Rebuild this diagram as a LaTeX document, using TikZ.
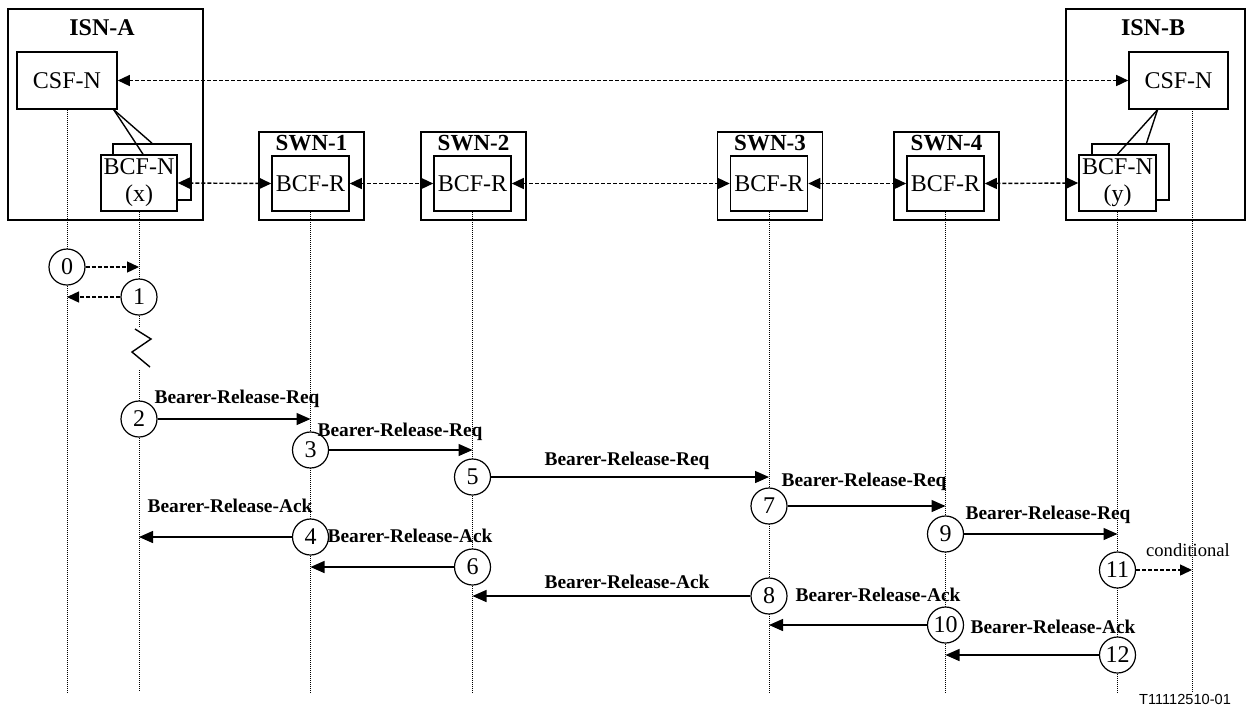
\documentclass[tikz,border=0pt]{standalone}
\usepackage{fontspec}
\setmainfont{Liberation Serif}
\setsansfont{Liberation Sans}
\usetikzlibrary{arrows.meta,positioning}

\begin{document}
\begin{tikzpicture}[x=0.5pt,y=-0.5pt,
  frame/.style={draw, line width=0.8pt, inner sep=0pt},
  fnbox/.style={draw, fill=white, line width=0.8pt, inner sep=0pt, align=center, font=\fontsize{12}{13.5}\selectfont},
  title/.style={font=\fontsize{12}{14}\selectfont\bfseries, inner sep=0pt},
  num/.style={circle, draw, fill=white, line width=0.6pt, minimum size=18pt, inner sep=0pt, font=\fontsize{12}{14}\selectfont},
  msglabel/.style={font=\fontsize{9.7}{11}\selectfont\bfseries, inner sep=0pt},
  lifeline/.style={line width=0.5pt, dash pattern=on 0.5pt off 0.5pt},
  sig/.style={line width=0.7pt, dash pattern=on 2pt off 1pt, -{Triangle[length=6pt,width=5.5pt]}},
  sigboth/.style={sig, {Triangle[length=6pt,width=5.5pt]}-{Triangle[length=6pt,width=5.5pt]}},
  msg/.style={line width=0.7pt, -{Triangle[length=7pt,width=6pt]}},
  link/.style={line width=0.7pt}]
  \useasboundingbox (0,0) rectangle (1246,707);

  % Network frames
  \node[frame, minimum width=97.5pt, minimum height=105.5pt] (isnA) at (105.5,114.5) {};
  \node[frame, minimum width=89.5pt, minimum height=105.5pt] (isnB) at (1155.5,114.5) {};
  \node[title] (isnAtitle) at (102,28) {ISN-A};
  \node[title] (isnBtitle) at (1153,28) {ISN-B};
  \foreach \x/\n/\name in {311.5/1/swnone, 473.5/2/swntwo, 770/3/swnthree, 946.5/4/swnfour} {
    \node[frame, minimum width=52.5pt, minimum height=44pt] (\name) at (\x,176) {};
    \node[title, font=\fontsize{11.5}{13}\selectfont\bfseries] (\name title) at (\x,143) {SWN-\n};
  }

  % Functional boxes
  \node[fnbox, minimum width=50pt, minimum height=28.5pt] (csfA) at (67,80.5) {CSF-N};
  \node[fnbox, minimum width=49.5pt, minimum height=28.5pt] (csfB) at (1178.5,80.5) {CSF-N};
  \node[fnbox, minimum width=39pt, minimum height=28pt] (bcfxb) at (152,172) {};
  \node[fnbox, minimum width=38pt, minimum height=28pt] (bcfx) at (139,183) {BCF-N\\(x)};
  \node[fnbox, minimum width=38.5pt, minimum height=28pt] (bcfyb) at (1130.5,172) {};
  \node[fnbox, minimum width=38.5pt, minimum height=28pt] (bcfy) at (1117.5,183) {BCF-N\\(y)};
  \foreach \x/\name in {310.5/rone, 472.5/rtwo, 769/rthree, 945.5/rfour} {
    \node[fnbox, minimum width=38.5pt, minimum height=27.5pt] (\name) at (\x,183.5) {BCF-R};
  }

  % CSF to BCF links
  \draw[link] ([xshift=-2pt]csfA.south east) -- ([xshift=2pt]bcfx.north);
  \draw[link] ([xshift=-2pt]csfA.south east) -- (bcfxb.north);
  \draw[link] ([xshift=-10.5pt]csfB.south) -- (bcfy.north);
  \draw[link] ([xshift=-10.5pt]csfB.south) -- ([xshift=8pt]bcfyb.north);

  % Control and bearer associations
  \draw[sigboth] (csfA) -- (csfB);
  \draw[sigboth] (bcfx.east) -- (rone.west);
  \draw[sigboth] (rone.east) -- (rtwo.west);
  \draw[sigboth] (rtwo.east) -- (rthree.west);
  \draw[sigboth] (rthree.east) -- (rfour.west);
  \draw[sigboth] (rfour.east) -- (bcfy.west);

  % Lifelines
  \coordinate (bot) at (0,692);
  \coordinate (zzA) at (139,327);
  \coordinate (zzB) at (139,370);
  \coordinate (csfBline) at (1192,109);
  \draw[lifeline] (csfA.south) -- (csfA.south |- bot);
  \draw[lifeline] (bcfx.south) -- (zzA);
  \draw[lifeline] (zzB) -- (bcfx.south |- bot);
  \foreach \name in {rone, rtwo, rthree, rfour}
    \draw[lifeline] (\name.south) -- (\name.south |- bot);
  \draw[lifeline] (bcfy.south) -- (bcfy.south |- bot);
  \draw[lifeline] (csfBline) -- (csfBline |- bot);

  % Time break
  \draw[link] (135,329) -- (151,339) -- (132,352) -- (150,367);

  % Steps
  \node[num] (n0) at (67,267) {0};
  \node[num] (n1) at (139,297) {1};
  \node[num] (n2) at (139,419) {2};
  \node[num] (n3) at (310.5,450) {3};
  \node[num] (n4) at (310.5,537) {4};
  \node[num] (n5) at (472.5,477) {5};
  \node[num] (n6) at (472.5,567) {6};
  \node[num] (n7) at (769,506) {7};
  \node[num] (n8) at (769,596) {8};
  \node[num] (n9) at (945.5,534) {9};
  \node[num] (n10) at (945.5,625) {10};
  \node[num] (n11) at (1117.5,570) {11};
  \node[num] (n12) at (1117.5,655) {12};

  % Messages
  \draw[sig] (n0) -- (n0 -| bcfx);
  \draw[sig] (n1) -- (n1 -| csfA);
  \draw[msg] (n2) -- (n2 -| rone);
  \draw[msg] (n3) -- (n3 -| rtwo);
  \draw[msg] (n5) -- (n5 -| rthree);
  \draw[msg] (n7) -- (n7 -| rfour);
  \draw[msg] (n9) -- (n9 -| bcfy);
  \draw[sig] (n11) -- (n11 -| csfBline);
  \draw[msg] (n4) -- (n4 -| bcfx);
  \draw[msg] (n6) -- (n6 -| rone);
  \draw[msg] (n8) -- (n8 -| rtwo);
  \draw[msg] (n10) -- (n10 -| rthree);
  \draw[msg] (n12) -- (n12 -| rfour);

  % Message labels
  \node[msglabel] (lreq2) at (237,399) {Bearer-Release-Req};
  \node[msglabel] (lreq3) at (400,432) {Bearer-Release-Req};
  \node[msglabel] (lreq5) at (627,461) {Bearer-Release-Req};
  \node[msglabel] (lreq7) at (864,482) {Bearer-Release-Req};
  \node[msglabel] (lreq9) at (1048,515) {Bearer-Release-Req};
  \node[msglabel] (lack4) at (230,506) {Bearer-Release-Ack};
  \node[msglabel] (lack6) at (410,536) {Bearer-Release-Ack};
  \node[msglabel] (lack8) at (627,582) {Bearer-Release-Ack};
  \node[msglabel] (lack10) at (878,595) {Bearer-Release-Ack};
  \node[msglabel] (lack12) at (1053,627) {Bearer-Release-Ack};
  \node[inner sep=0pt, font=\fontsize{9.3}{11}\selectfont] (lcond) at (1188,550) {conditional};
  \node[inner sep=0pt, font=\fontsize{7.3}{8}\selectfont\sffamily] (figid) at (1185,699) {T11112510-01};
\end{tikzpicture}
\end{document}
